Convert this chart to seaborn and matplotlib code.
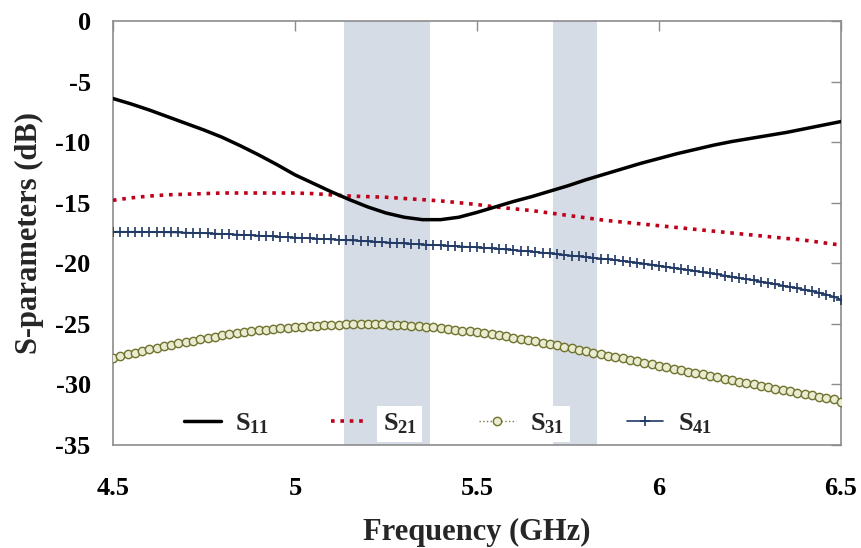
import numpy as np
import pandas as pd
import matplotlib
matplotlib.use("Agg")
import matplotlib.pyplot as plt
import seaborn as sns

# Frequency grids (GHz)
freq_coarse = np.round(np.arange(4.50, 6.5001, 0.05), 2)
freq_fine = np.round(np.arange(4.50, 6.5001, 0.02), 2)

# S-parameters in dB
s11 = [-6.4, -6.85, -7.35, -7.9, -8.45, -9.0, -9.6, -10.3, -11.05, -11.85,
       -12.7, -13.4, -14.1, -14.75, -15.35, -15.85, -16.2, -16.4, -16.4, -16.2,
       -15.8, -15.35, -14.9, -14.5, -14.05, -13.6, -13.1, -12.65, -12.2, -11.75,
       -11.35, -10.95, -10.6, -10.25, -9.95, -9.7, -9.45, -9.2, -8.9, -8.6,
       -8.3]

s21 = [-14.8, -14.6, -14.45, -14.35, -14.3, -14.25, -14.2, -14.2, -14.2, -14.2,
       -14.2, -14.25, -14.35, -14.45, -14.5, -14.55, -14.65, -14.75, -14.85, -15.0,
       -15.15, -15.35, -15.5, -15.65, -15.85, -16.05, -16.25, -16.45, -16.6, -16.75,
       -16.9, -17.05, -17.2, -17.35, -17.5, -17.65, -17.8, -17.95, -18.1, -18.3,
       -18.5]

s31 = [-27.80, -27.65, -27.51, -27.37, -27.23, -27.10, -26.97, -26.84, -26.72, -26.60,
       -26.49, -26.38, -26.27, -26.16, -26.06, -25.96, -25.87, -25.78, -25.70, -25.62,
       -25.55, -25.48, -25.42, -25.36, -25.31, -25.26, -25.22, -25.18, -25.14, -25.11,
       -25.08, -25.06, -25.04, -25.03, -25.02, -25.02, -25.03, -25.04, -25.06, -25.09,
       -25.12, -25.16, -25.20, -25.25, -25.30, -25.36, -25.42, -25.49, -25.56, -25.63,
       -25.70, -25.78, -25.86, -25.95, -26.04, -26.13, -26.23, -26.33, -26.44, -26.55,
       -26.66, -26.78, -26.90, -27.02, -27.14, -27.26, -27.38, -27.50, -27.62, -27.74,
       -27.86, -27.98, -28.10, -28.22, -28.34, -28.46, -28.58, -28.70, -28.82, -28.94,
       -29.06, -29.18, -29.30, -29.42, -29.54, -29.66, -29.77, -29.89, -30.00, -30.12,
       -30.23, -30.34, -30.45, -30.56, -30.67, -30.78, -30.89, -31.00, -31.11, -31.23,
       -31.45]

s41 = [-17.40, -17.40, -17.40, -17.40, -17.40, -17.42, -17.43, -17.44, -17.45, -17.46,
       -17.47, -17.49, -17.50, -17.53, -17.55, -17.58, -17.60, -17.63, -17.66, -17.69,
       -17.72, -17.75, -17.78, -17.82, -17.85, -17.88, -17.91, -17.94, -17.97, -18.00,
       -18.03, -18.06, -18.09, -18.12, -18.15, -18.19, -18.22, -18.26, -18.29, -18.33,
       -18.36, -18.40, -18.43, -18.46, -18.49, -18.52, -18.55, -18.58, -18.62, -18.65,
       -18.69, -18.73, -18.77, -18.81, -18.86, -18.91, -18.96, -19.01, -19.07, -19.13,
       -19.19, -19.25, -19.31, -19.37, -19.43, -19.49, -19.55, -19.61, -19.67, -19.74,
       -19.81, -19.88, -19.95, -20.03, -20.11, -20.20, -20.29, -20.38, -20.47, -20.56,
       -20.65, -20.74, -20.83, -20.92, -21.01, -21.11, -21.21, -21.31, -21.41, -21.51,
       -21.62, -21.73, -21.84, -21.95, -22.07, -22.19, -22.31, -22.44, -22.58, -22.76,
       -23.00]

# Operating bands (GHz)
bands = [(5.135, 5.37), (5.71, 5.83)]

x_ticks = [4.5, 5, 5.5, 6, 6.5]
x_tick_labels = ["4.5", "5", "5.5", "6", "6.5"]
y_ticks = [0, -5, -10, -15, -20, -25, -30, -35]

series_labels = [r"$S_{11}$", r"$S_{21}$", r"$S_{31}$", r"$S_{41}$"]

sns.set_style("white")
plt.rcParams["font.family"] = ["Liberation Serif", "DejaVu Serif"]
plt.rcParams["font.weight"] = "bold"
plt.rcParams["mathtext.fontset"] = "custom"
plt.rcParams["mathtext.rm"] = "Liberation Serif:bold"
plt.rcParams["mathtext.it"] = "Liberation Serif:bold"
plt.rcParams["mathtext.bf"] = "Liberation Serif:bold"

fig = plt.figure(figsize=(8.61, 5.48), dpi=100)
ax = fig.add_axes([0.1312, 0.1880, 0.8456, 0.7737])

for lo, hi in bands:
    ax.axvspan(lo, hi, color="#d6dce5", lw=0, zorder=0)

df_c = pd.DataFrame({"f": freq_coarse, "S11": s11, "S21": s21})
df_f = pd.DataFrame({"f": freq_fine, "S31": s31, "S41": s41})

sns.lineplot(data=df_c, x="f", y="S11", ax=ax, color="black", lw=2.5,
             label=series_labels[0], zorder=4)
sns.lineplot(data=df_c, x="f", y="S21", ax=ax, color="#c0001a", lw=2.6,
             linestyle=(0, (1, 1.6)), label=series_labels[1], zorder=3)
sns.lineplot(data=df_f, x="f", y="S31", ax=ax, color="#7b7d3c", lw=1.0,
             linestyle=":", marker="o", markersize=6, markerfacecolor="#e9ecd0",
             markeredgecolor="#70722f", markeredgewidth=1.0,
             label=series_labels[2], zorder=3)
sns.lineplot(data=df_f, x="f", y="S41", ax=ax, color="#1f3864", lw=1.2,
             marker="+", markersize=7, markeredgewidth=1.2,
             markeredgecolor="#1f3864", markerfacecolor="#1f3864",
             label=series_labels[3], zorder=3)

ax.set_xlim(4.5, 6.5)
ax.set_ylim(-35, 0)
ax.set_xticks(x_ticks)
ax.set_xticklabels(x_tick_labels)
ax.set_yticks(y_ticks)
ax.set_yticklabels([str(v) for v in y_ticks])

for side in ["left", "right", "top", "bottom"]:
    ax.spines[side].set_visible(True)
    ax.spines[side].set_color("#8c8c8c")
    ax.spines[side].set_linewidth(1.2)

ax.tick_params(axis="both", which="both", direction="in", length=7, width=1.0,
               color="#8c8c8c", top=True, right=True,
               labelsize=19, labelcolor="black")
ax.tick_params(axis="y", pad=16)
ax.tick_params(axis="x", pad=23)
for lbl in ax.get_xticklabels() + ax.get_yticklabels():
    lbl.set_fontweight("bold")

ax.set_xlabel("Frequency (GHz)", fontsize=22, fontweight="bold", labelpad=13)
ax.set_ylabel("S-parameters (dB)", fontsize=22, fontweight="bold", labelpad=8)

leg = ax.legend(loc="center", bbox_to_anchor=(0.46, 0.05), ncol=4,
                frameon=False, fontsize=19, handlelength=1.4,
                handletextpad=0.55, columnspacing=2.35, borderaxespad=0)
leg.set_zorder(5)
for t in leg.get_texts():
    t.set_bbox(dict(facecolor="white", edgecolor="none", pad=4))

fig.savefig("out.png", dpi=100)
